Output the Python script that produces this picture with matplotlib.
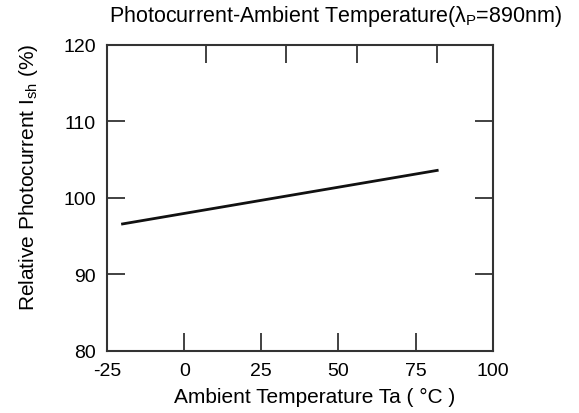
import matplotlib
matplotlib.use('Agg')
import matplotlib.pyplot as plt

plt.rcParams['font.family'] = ['Liberation Sans', 'DejaVu Sans']
plt.rcParams['mathtext.fontset'] = 'custom'
plt.rcParams['mathtext.rm'] = 'Liberation Sans'
plt.rcParams['mathtext.it'] = 'Liberation Sans:italic'
plt.rcParams['axes.unicode_minus'] = False

# data
temp = [-20, 82]
photocurrent = [96.6, 103.6]
xticks = [-25, 0, 25, 50, 75, 100]
yticks = [80, 90, 100, 110, 120]
top_ticks = [7, 33, 56, 82]

fig = plt.figure(figsize=(5.79, 4.14), dpi=100)
ax = fig.add_axes([0.185, 0.150, 0.666, 0.739])
ax.plot(temp, photocurrent, color='#111111', lw=2)

ax.set_xlim(-25, 100)
ax.set_ylim(80, 120)
ax.set_xticks(xticks)
ax.set_yticks(yticks)
ax.tick_params(direction='in', length=13, width=1.3, color='#333333',
               labelsize=14, right=True)
ax.tick_params(axis='x', pad=8)
ax.tick_params(axis='y', pad=8)
# the top axis in the original has its own odd tick spacing
top = ax.secondary_xaxis('top')
top.set_xticks(top_ticks)
top.set_xticklabels([])
top.tick_params(direction='in', length=13, width=1.3, color='#333333')
top.spines['top'].set_visible(False)
for s in ax.spines.values():
    s.set_linewidth(1.5)
    s.set_color('#333333')

ax.set_xlabel('Ambient Temperature Ta ( \u00b0C )', fontsize=15, va='center')
ax.xaxis.set_label_coords(0.539, -0.150)
ax.set_ylabel('Relative Photocurrent I$_{\\rm sh}$ (%)', fontsize=15, va='center')
ax.yaxis.set_label_coords(-0.205, 0.57)
fig.text(0.579, 0.959, 'Photocurrent-Ambient Temperature(\u03bb$_{\\rm P}$=890nm)',
         ha='center', va='center', fontsize=15.5)

fig.savefig('out.png', dpi=100)
